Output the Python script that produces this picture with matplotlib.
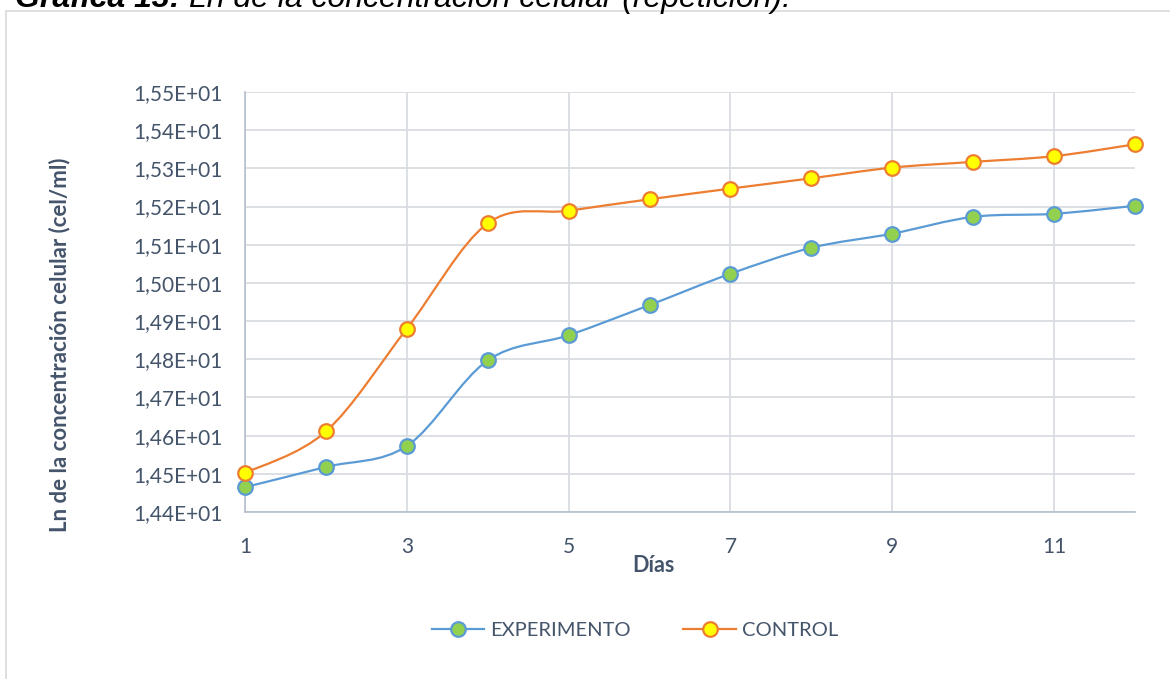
import numpy as np
import matplotlib
matplotlib.use("Agg")
import matplotlib.pyplot as plt
from matplotlib.path import Path
from matplotlib.patches import PathPatch, Rectangle
from matplotlib.lines import Line2D
from matplotlib.ticker import FuncFormatter

dias = [1, 2, 3, 4, 5, 6, 7, 8, 9, 10, 11, 12]
experimento = [14.465, 14.518, 14.573, 14.797, 14.863, 14.942,
               15.024, 15.092, 15.129, 15.173, 15.181, 15.202]
control = [14.502, 14.611, 14.880, 15.156, 15.189, 15.219,
           15.247, 15.274, 15.302, 15.317, 15.332, 15.363]

TXT = "#44546a"
FONT = "Lato"
plt.rcParams['font.family'] = [FONT, 'DejaVu Sans']


def smooth_path(x, y):
    # excel-style smoothed line: cubic bezier segments (catmull-rom control points)
    pts = np.column_stack([x, y]).astype(float)
    n = len(pts)
    verts = [pts[0]]
    codes = [Path.MOVETO]
    for i in range(n - 1):
        p0 = pts[i - 1] if i > 0 else pts[i]
        p1 = pts[i]
        p2 = pts[i + 1]
        p3 = pts[i + 2] if i + 2 < n else pts[i + 1]
        c1 = p1 + (p2 - p0) / 6.0
        c2 = p2 - (p3 - p1) / 6.0
        verts += [c1, c2, p2]
        codes += [Path.CURVE4] * 3
    return Path(verts, codes)


fig = plt.figure(figsize=(11.7, 6.79), dpi=100)

# chart frame
fig.patches.append(Rectangle((6 / 1170, -0.1), 1.2, 1 - 11 / 679 + 0.1,
                             transform=fig.transFigure, fill=False,
                             edgecolor="#d9d9d9", linewidth=1.2))

ax = fig.add_axes([245 / 1170, 1 - 512 / 679, 890 / 1170, 420 / 679])

series = [
    ("EXPERIMENTO", experimento, "#5b9bd5", "#92d050"),
    ("CONTROL", control, "#ed7d31", "#ffff00"),
]
handles = []
for name, vals, lc, fc in series:
    ax.add_patch(PathPatch(smooth_path(dias, vals), fill=False, edgecolor=lc,
                           linewidth=1.6, zorder=3))
    ax.plot(dias, vals, linestyle="none", marker="o", markersize=10.5,
            markerfacecolor=fc, markeredgecolor=lc, markeredgewidth=1.6,
            zorder=4, clip_on=False)
    handles.append(Line2D([], [], color=lc, linewidth=1.6, marker="o",
                          markersize=10.5, markerfacecolor=fc,
                          markeredgecolor=lc, markeredgewidth=1.6, label=name))

ax.set_xlim(1, 12)
ax.set_ylim(14.4, 15.5)
ax.set_xticks([1, 3, 5, 7, 9, 11])
ax.set_yticks(np.round(np.arange(14.4, 15.51, 0.1), 2))
ax.yaxis.set_major_formatter(
    FuncFormatter(lambda v, p: f"{v / 10:.2f}".replace(".", ",") + "E+01"))

ax.grid(True, color="#d9dde3", linewidth=1.3, zorder=0)
ax.set_axisbelow(True)
for s in ["top", "right"]:
    ax.spines[s].set_visible(False)
for s in ["left", "bottom"]:
    ax.spines[s].set_color("#b4bfcc")
    ax.spines[s].set_linewidth(1.2)
ax.tick_params(length=0, labelsize=15, colors=TXT)
ax.tick_params(axis="y", pad=16)
ax.tick_params(axis="x", pad=18)

fig.text(653 / 1170, 1 - 565 / 679, "Días", ha="center", va="center",
         fontsize=15.5, fontweight="bold", color=TXT)
fig.text(60 / 1170, 1 - 345 / 679, "Ln de la concentración celular (cel/ml)",
         rotation=90, ha="center", va="center", fontsize=16,
         fontweight="bold", color=TXT)

fig.legend(handles=handles, loc="center", bbox_to_anchor=(635 / 1170, 1 - 630 / 679),
           ncol=2, frameon=False, fontsize=14.5, handlelength=2.6,
           columnspacing=2.6, handletextpad=0.3, labelcolor=TXT)

# caption above the chart
tfam = ["Liberation Sans", "DejaVu Sans"]
t1 = fig.text(15 / 1170, 1 - 7 / 679, "Gráfica 13:", ha="left", va="baseline",
              fontsize=23, fontweight="bold", style="italic", color="black",
              family=tfam)
fig.canvas.draw()
bb = t1.get_window_extent()
fig.text(bb.x1 / 1170 + 9 / 1170, 1 - 7 / 679,
         "Ln de la concentración celular (repetición).", ha="left",
         va="baseline", fontsize=23, style="italic", color="black", family=tfam)

fig.savefig("out.png", dpi=100)
